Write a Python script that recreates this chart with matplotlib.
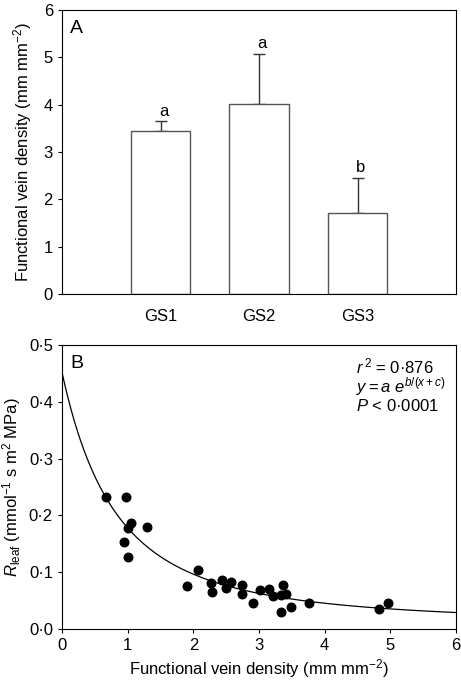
import numpy as np
import matplotlib
matplotlib.use('Agg')
import matplotlib.pyplot as plt
from matplotlib.ticker import FuncFormatter

plt.rcParams['font.family'] = ['Liberation Sans', 'DejaVu Sans']
plt.rcParams['mathtext.fontset'] = 'custom'
plt.rcParams['mathtext.rm'] = 'Liberation Sans'
plt.rcParams['mathtext.it'] = 'Liberation Sans:italic'
plt.rcParams['font.size'] = 12

# panel A data
groups = ['GS1', 'GS2', 'GS3']
vein_mean = [3.44, 4.01, 1.71]
vein_err = [0.21, 1.07, 0.75]
sig_letters = ['a', 'a', 'b']

# panel B data
vein_density = [0.67, 0.97, 1.05, 1.00, 1.30, 0.94, 1.00, 2.07, 1.91, 2.27,
                2.29, 2.43, 2.49, 2.58, 2.74, 2.74, 2.91, 3.02, 3.15, 3.21,
                3.36, 3.34, 3.41, 3.34, 3.48, 3.76, 4.83, 4.96]
r_leaf = [0.233, 0.233, 0.186, 0.177, 0.180, 0.153, 0.126, 0.104, 0.076, 0.081,
          0.066, 0.086, 0.073, 0.083, 0.077, 0.062, 0.046, 0.069, 0.071, 0.058,
          0.077, 0.060, 0.062, 0.030, 0.039, 0.045, 0.035, 0.045]
# fit y = a*exp(b/(x+c))
fit_a, fit_b, fit_c = 0.00503, 17.21, 3.826

dot = FuncFormatter(lambda v, p: ('%.1f' % v).replace('.', '\u00b7'))

fig = plt.figure(figsize=(4.61, 6.80), dpi=100)
W, H = 461.0, 680.0
ax1 = fig.add_axes([62 / W, 1 - 294 / H, 394 / W, 284 / H])
ax2 = fig.add_axes([62 / W, 1 - 629 / H, 394 / W, 284 / H])

# ---- panel A
x = np.arange(1, len(groups) + 1)
ax1.bar(x, vein_mean, width=0.6, color='white', edgecolor='#555555', linewidth=1.0, zorder=2)
ax1.errorbar(x, vein_mean, yerr=[np.zeros(3), vein_err], fmt='none', ecolor='#333333',
             elinewidth=1.0, capsize=4, capthick=1.0, zorder=1)
for xi, m, e, s in zip(x, vein_mean, vein_err, sig_letters):
    ax1.text(xi + 0.03, m + e + 0.05, s, ha='center', va='bottom')
ax1.set_xlim(0, 4)
ax1.set_ylim(0, 6)
ax1.set_xticks(x)
ax1.set_xticklabels(groups)
ax1.tick_params(axis='x', length=0, pad=11)
ax1.tick_params(axis='y', direction='out', length=3, width=0.8, right=False)
ax1.set_ylabel('Functional vein density (mm mm$^{\u22122}$)', labelpad=7)
ax1.text(0.02, 0.965, 'A', transform=ax1.transAxes, ha='left', va='top', fontsize=14)

# ---- panel B
xs = np.linspace(0, 6, 300)
ax2.plot(xs, fit_a * np.exp(fit_b / (xs + fit_c)), color='black', linewidth=0.9, zorder=2)
ax2.scatter(vein_density, r_leaf, s=38, color='black', zorder=3)
ax2.set_xlim(0, 6)
ax2.set_ylim(0, 0.5)
ax2.set_xticks(range(7))
ax2.set_yticks(np.arange(0, 0.51, 0.1))
ax2.yaxis.set_major_formatter(dot)
ax2.tick_params(direction='out', length=3, width=0.8)
ax2.set_xlabel('Functional vein density (mm mm$^{\u22122}$)', labelpad=3)
ax2.set_ylabel('$\\mathit{R}_{\\rm leaf}$ (mmol$^{-1}$ s m$^{2}$ MPa)', labelpad=4)
ax2.text(0.02, 0.965, 'B', transform=ax2.transAxes, ha='left', va='top', fontsize=14)
ax2.text(0.745, 0.925, '$\\mathit{r}^{\\,2}$ = 0\u00b7876', transform=ax2.transAxes,
         ha='left', va='center')
ax2.text(0.745, 0.855, '$\\mathit{y} = \\mathit{a}\\ \\mathit{e}^{\\mathit{b}/(\\mathit{x}+\\mathit{c})}$',
         transform=ax2.transAxes, ha='left', va='center')
ax2.text(0.745, 0.785, '$\\mathit{P}$ < 0\u00b70001', transform=ax2.transAxes,
         ha='left', va='center')

for ax in (ax1, ax2):
    for sp in ax.spines.values():
        sp.set_linewidth(0.8)

fig.savefig('out.png', dpi=100)
